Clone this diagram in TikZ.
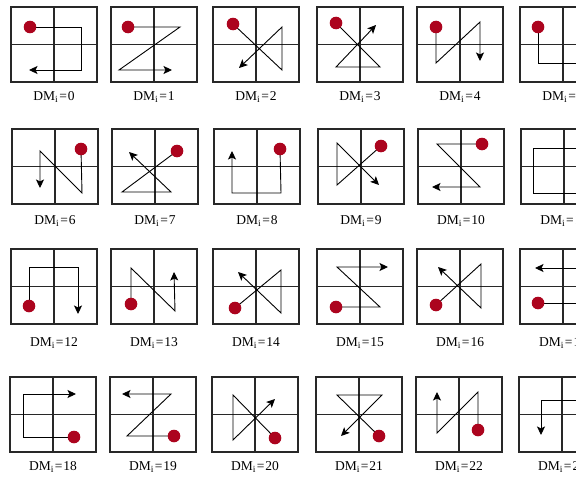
\documentclass[tikz,border=0pt]{standalone}
\usepackage{fontspec}
\setmainfont{Liberation Serif}
\usetikzlibrary{arrows.meta}
\definecolor{dotred}{RGB}{172,4,30}
\definecolor{boxgray}{RGB}{40,40,40}
\tikzset{
  box/.style={draw=boxgray, line width=1.5pt},
  arr/.style={draw=black, line width=0.9pt, line join=miter, -{Stealth[length=8.5pt,width=8pt,inset=2pt]}},
  dot/.style={fill=dotred},
  lab/.style={font=\fontsize{13.5}{15}\selectfont, inner sep=0pt}
}
\newcommand\cellpic[6]{%
  \begin{scope}[shift={(#1,#2)}]
    \draw[box] (0,0) rectangle (86,75);
    \draw[box] (43,0)--(43,75) (0,37.5)--(86,37.5);
    \draw[arr] #6;
    \fill[dot] (#5) circle (6.3pt);
    \node[lab] (lab#4) at (43,#3) {DM\textsubscript{i}\kern1pt=\kern1pt#4};
  \end{scope}}
\begin{document}
\begin{tikzpicture}[x=1pt,y=-1pt]
\useasboundingbox (0,0) rectangle (576,479);
\clip (0,0) rectangle (576,479);
\fill[white] (0,0) rectangle (576,479);
% row 1
\cellpic{11}{7}{90}{0}{19,20}{(19,20)--(70,20)--(70,63)--(18,63)}
\cellpic{111}{7}{90}{1}{17,20}{(17,20)--(69,20)--(8,63)--(61,63)}
\cellpic{213}{7}{90}{2}{20,17}{(20,17)--(69,63)--(69,20)--(26,61)}
\cellpic{317}{7}{90}{3}{19,16}{(19,16)--(63,60)--(19,60)--(59,18)}
\cellpic{417}{7}{90}{4}{19,20}{(19,20)--(19,56)--(63,15)--(63,54)}
\cellpic{520}{7}{90}{5}{18,20}{(18,20)--(18,56)--(67,56)--(67,22)}
% row 2
\cellpic{12}{129}{92}{6}{69,20}{(69,20)--(70,64)--(28,22)--(28,59)}
\cellpic{112}{129}{92}{7}{65,22}{(65,22)--(10,63)--(59,63)--(17,23)}
\cellpic{214}{129}{92}{8}{66,20}{(66,20)--(67,64)--(18,64)--(18,22)}
\cellpic{318}{129}{92}{9}{63,17}{(63,17)--(19,56)--(19,14)--(61,56)}
\cellpic{418}{129}{92}{10}{64,15}{(64,15)--(19,15)--(62,58)--(14,58)}
\cellpic{521}{129}{92}{11}{67,19}{(67,19)--(12,19)--(12,64)--(67,64)}
% row 3
\cellpic{11}{249}{94}{12}{18,57}{(18,57)--(18,18)--(67,18)--(67,65)}
\cellpic{111}{249}{94}{13}{20,55}{(20,55)--(20,19)--(64,62)--(63,23)}
\cellpic{213}{249}{94}{14}{22,59}{(22,59)--(68,21)--(68,64)--(25,23)}
\cellpic{317}{249}{94}{15}{19,58}{(19,58)--(63,58)--(20,18)--(71,18)}
\cellpic{417}{249}{94}{16}{19,56}{(19,56)--(64,15)--(64,59)--(21,18)}
\cellpic{520}{249}{94}{17}{18,54}{(18,54)--(67,54)--(67,19)--(15,19)}
% row 4
\cellpic{10}{377}{90}{18}{64,60}{(64,60)--(13,60)--(13,17)--(66,17)}
\cellpic{110}{377}{90}{19}{64,59}{(64,59)--(17,59)--(61,17)--(12,17)}
\cellpic{212}{377}{90}{20}{63,61}{(63,61)--(21,18)--(21,63)--(63,22)}
\cellpic{316}{377}{90}{21}{63,59}{(63,59)--(21,18)--(66,18)--(25,59)}
\cellpic{416}{377}{90}{22}{62,53}{(62,53)--(62,15)--(21,56)--(21,15)}
\cellpic{519}{377}{90}{23}{64,58}{(64,58)--(64,23)--(22,23)--(22,58)}
\end{tikzpicture}
\end{document}
